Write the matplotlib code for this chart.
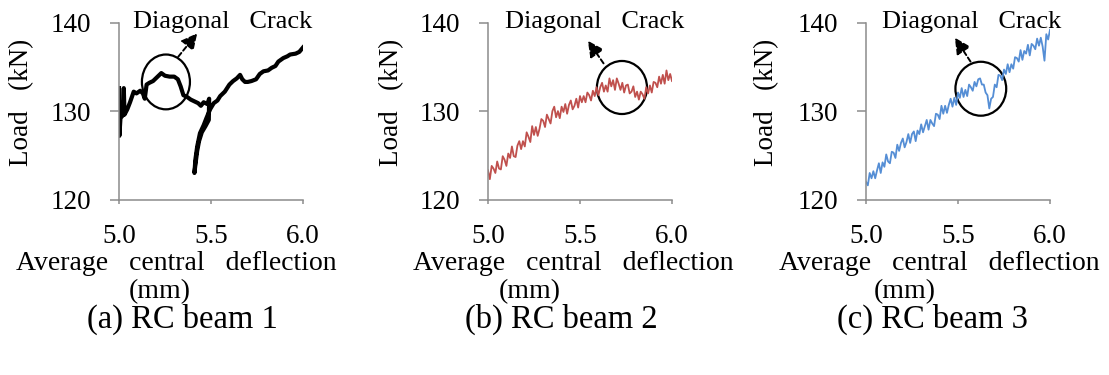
import matplotlib
matplotlib.use("Agg")
import matplotlib.pyplot as plt
from matplotlib.patches import Ellipse

plt.rcParams['font.family'] = ['Liberation Serif', 'DejaVu Serif']

W, H = 1109, 375

# beam 1 load path (deflection mm, load kN), incl. the unload / reload at ~5.4 mm
defl_b1 = [5.000, 5.002, 5.008, 5.020, 5.026, 5.030, 5.045, 5.060, 5.080, 5.095,
           5.115, 5.130, 5.140, 5.150, 5.165, 5.185, 5.205, 5.230, 5.250, 5.275,
           5.300, 5.320, 5.335, 5.350, 5.370, 5.390, 5.410, 5.430, 5.445, 5.460,
           5.480, 5.490, 5.488, 5.470, 5.450, 5.435, 5.425, 5.415, 5.410, 5.415,
           5.425, 5.440, 5.460, 5.475, 5.495, 5.515, 5.535, 5.550, 5.575, 5.600,
           5.620, 5.640, 5.658, 5.670, 5.685, 5.700, 5.720, 5.745, 5.765, 5.785,
           5.810, 5.830, 5.850, 5.866, 5.893, 5.915, 5.930, 5.960, 5.980, 6.000]
load_b1 = [132.6, 127.2, 129.2, 129.5, 132.6, 129.6, 130.2, 131.0, 132.2, 132.0,
           132.3, 132.0, 131.4, 133.0, 133.2, 133.4, 133.8, 134.3, 134.0, 133.9,
           133.9, 133.6, 132.8, 131.8, 131.6, 131.3, 131.1, 130.9, 130.6, 131.0,
           130.8, 131.4, 129.0, 128.3, 127.6, 126.6, 125.5, 123.9, 123.0, 124.5,
           126.0, 127.5, 128.4, 129.2, 130.2, 130.9, 131.2, 131.7, 132.2, 133.0,
           133.4, 133.7, 134.1, 133.6, 133.3, 133.3, 133.4, 133.6, 134.2, 134.5,
           134.6, 134.9, 135.1, 135.6, 136.0, 136.2, 136.4, 136.5, 136.7, 137.2]

# beams 2 and 3 sampled every 0.01 mm
defl_b23 = [5.00, 5.01, 5.02, 5.03, 5.04, 5.05, 5.06, 5.07, 5.08, 5.09,
            5.10, 5.11, 5.12, 5.13, 5.14, 5.15, 5.16, 5.17, 5.18, 5.19,
            5.20, 5.21, 5.22, 5.23, 5.24, 5.25, 5.26, 5.27, 5.28, 5.29,
            5.30, 5.31, 5.32, 5.33, 5.34, 5.35, 5.36, 5.37, 5.38, 5.39,
            5.40, 5.41, 5.42, 5.43, 5.44, 5.45, 5.46, 5.47, 5.48, 5.49,
            5.50, 5.51, 5.52, 5.53, 5.54, 5.55, 5.56, 5.57, 5.58, 5.59,
            5.60, 5.61, 5.62, 5.63, 5.64, 5.65, 5.66, 5.67, 5.68, 5.69,
            5.70, 5.71, 5.72, 5.73, 5.74, 5.75, 5.76, 5.77, 5.78, 5.79,
            5.80, 5.81, 5.82, 5.83, 5.84, 5.85, 5.86, 5.87, 5.88, 5.89,
            5.90, 5.91, 5.92, 5.93, 5.94, 5.95, 5.96, 5.97, 5.98, 5.99, 6.00]
load_b2 = [123.3, 122.3, 123.8, 123.5, 123.0, 124.3, 123.5, 123.4, 124.9, 124.5,
           123.8, 125.2, 124.7, 126.0, 124.9, 124.8, 126.1, 126.6, 125.7, 126.6,
           126.0, 127.6, 127.1, 126.5, 128.3, 127.3, 128.2, 127.2, 128.0, 129.1,
           128.9, 128.2, 129.6, 129.1, 128.6, 130.0, 130.5, 129.3, 130.0, 129.2,
           130.5, 129.9, 130.8, 129.7, 130.7, 131.2, 130.2, 130.6, 131.4, 130.4,
           131.7, 131.0, 131.7, 131.0, 132.1, 131.8, 131.2, 132.3, 131.7, 132.7,
           131.8, 132.7, 133.2, 132.2, 132.9, 132.2, 133.7, 132.8, 133.5, 132.4,
           133.7, 133.1, 132.4, 133.2, 132.1, 132.9, 133.0, 132.0, 132.2, 132.8,
           131.6, 132.2, 131.3, 132.2, 131.9, 131.4, 132.7, 132.0, 132.9, 132.1,
           133.3, 133.2, 132.7, 133.9, 133.1, 134.1, 133.1, 134.6, 133.5, 134.2, 133.4]
load_b3 = [122.0, 121.6, 123.0, 122.4, 123.2, 122.4, 123.3, 124.1, 123.0, 124.2,
           123.7, 125.1, 124.3, 124.1, 125.4, 125.3, 124.7, 126.2, 125.5, 126.4,
           126.9, 125.9, 126.5, 127.4, 126.4, 127.4, 127.7, 126.6, 127.8, 127.4,
           128.5, 127.6, 128.3, 129.0, 127.9, 129.0, 128.6, 128.3, 129.7, 129.6,
           129.1, 130.6, 129.7, 130.6, 129.8, 130.7, 131.4, 130.5, 131.5, 130.7,
           132.1, 131.5, 132.6, 131.6, 132.4, 131.7, 133.0, 132.7, 132.3, 133.3,
           132.8, 133.6, 133.7, 133.0, 133.0, 132.1, 131.8, 130.3, 131.4, 131.6,
           133.0, 132.7, 134.1, 134.0, 133.5, 134.7, 134.2, 135.3, 134.4, 135.3,
           134.8, 136.1, 136.0, 135.6, 136.9, 135.8, 136.8, 136.5, 137.5, 136.3,
           137.6, 137.4, 137.0, 138.2, 137.4, 138.3, 137.3, 135.7, 138.7, 138.1, 139.2]

x_ticks = [5.0, 5.5, 6.0]
x_ticklabels = ['5.0', '5.5', '6.0']
y_ticks = [120, 130, 140]
titles = ['(a) RC beam 1', '(b) RC beam 2', '(c) RC beam 3']

# layout in pixels
ax_left = [119, 488, 866]
ax_w = 184
ax_top, ax_bot = 22.7, 199.5
xlab_cx = [176, 573, 939]
mm_cx = [160, 530, 905]
title_cx = [182, 561, 932]
ylab_cx = [22, 392, 767]
# circle (center x, center y, width, height) and arrow tail/tip in data units
circles = [(5.255, 133.3, 0.261, 6.2), (5.728, 132.67, 0.272, 6.0), (5.624, 132.53, 0.276, 6.1)]
arrows = [((5.322, 136.15), (5.425, 138.8)),
          ((5.628, 135.4), (5.543, 137.95)),
          ((5.568, 135.6), (5.483, 138.3))]
crack_x = [5.5625, 5.577, 5.573]

fig = plt.figure(figsize=(W / 100, H / 100), dpi=100)

series = [(defl_b1, load_b1, 'black', 3.0),
          (defl_b23, load_b2, '#C0504D', 1.3),
          (defl_b23, load_b3, '#558ED5', 1.3)]

for i, (xs, ys, col, lw) in enumerate(series):
    ax = fig.add_axes([ax_left[i] / W, 1 - ax_bot / H, ax_w / W, (ax_bot - ax_top) / H])
    ax.plot(xs, ys, color=col, lw=lw, solid_joinstyle='round')
    ax.set_xlim(5.0, 6.0)
    ax.set_ylim(120, 140)
    ax.set_xticks(x_ticks)
    ax.set_xticklabels(x_ticklabels)
    ax.set_yticks(y_ticks)
    for s in ['top', 'right']:
        ax.spines[s].set_visible(False)
    for s in ['left', 'bottom']:
        ax.spines[s].set_color('#8c8c8c')
        ax.spines[s].set_linewidth(1.1)
    ax.tick_params(axis='y', length=6.5, width=1.1, color='#8c8c8c', pad=13.5, labelsize=19.5)
    ax.tick_params(axis='x', length=3, width=1.1, color='#8c8c8c', pad=14.5, labelsize=19.5)

    cx, cy, ew, eh = circles[i]
    ax.add_patch(Ellipse((cx, cy), ew, eh, fill=False, ec='black', lw=1.6, clip_on=False))
    tail, tip = arrows[i]
    ax.annotate('', xy=tip, xytext=tail, annotation_clip=False,
                arrowprops=dict(arrowstyle='-|>,head_length=0.95,head_width=0.48',
                                linestyle=(0, (2.5, 1.5)), color='black', lw=1.4,
                                shrinkA=0, shrinkB=0, mutation_scale=10))
    ax.text(crack_x[i], 139.4, 'Diagonal   Crack', ha='center', va='baseline',
            fontsize=19, clip_on=False)

    fig.text(xlab_cx[i] / W, 1 - 270 / H, 'Average   central   deflection',
             ha='center', va='baseline', fontsize=20)
    fig.text(mm_cx[i] / W, 1 - 298 / H, '(mm)', ha='center', va='baseline', fontsize=20)
    fig.text(title_cx[i] / W, 1 - 328 / H, titles[i], ha='center', va='baseline', fontsize=23.5)
    fig.text(ylab_cx[i] / W, 1 - 102 / H, 'Load   (kN)', ha='center', va='center',
             rotation=90, fontsize=19.5)

fig.savefig('out.png', dpi=100)
